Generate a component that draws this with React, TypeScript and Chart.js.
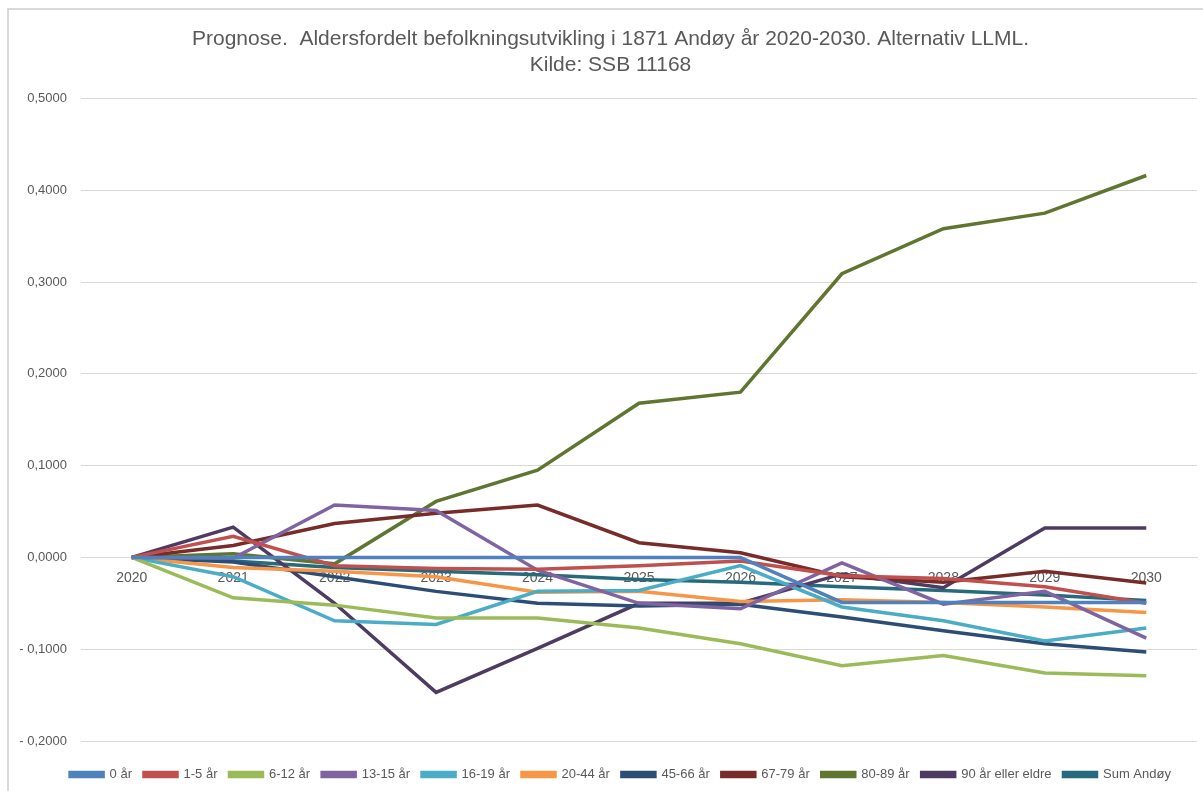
import React, { useEffect, useRef } from "react";
import { Chart, registerables } from "chart.js";

Chart.register(...registerables);

const years = ["2020", "2021", "2022", "2023", "2024", "2025", "2026", "2027", "2028", "2029", "2030"];

const s0 = [0, 0, 0, 0, 0, 0, 0, -0.049, -0.049, -0.049, -0.049];
const s1_5 = [0, 0.023, -0.009, -0.012, -0.013, -0.009, -0.004, -0.02, -0.023, -0.032, -0.05];
const s6_12 = [0, -0.044, -0.052, -0.066, -0.066, -0.077, -0.094, -0.118, -0.107, -0.126, -0.129];
const s13_15 = [0, -0.001, 0.057, 0.051, -0.014, -0.05, -0.056, -0.006, -0.051, -0.037, -0.088];
const s16_19 = [0, -0.021, -0.069, -0.073, -0.037, -0.036, -0.009, -0.054, -0.069, -0.091, -0.077];
const s20_44 = [0, -0.011, -0.015, -0.021, -0.038, -0.037, -0.048, -0.046, -0.049, -0.054, -0.06];
const s45_66 = [0, -0.005, -0.021, -0.037, -0.05, -0.053, -0.051, -0.065, -0.08, -0.094, -0.103];
const s67_79 = [0, 0.013, 0.037, 0.048, 0.057, 0.016, 0.005, -0.021, -0.027, -0.015, -0.028];
const s80_89 = [0, 0.004, -0.007, 0.061, 0.095, 0.168, 0.18, 0.309, 0.358, 0.375, 0.416];
const s90 = [0, 0.033, -0.05, -0.147, -0.099, -0.05, -0.05, -0.018, -0.033, 0.032, 0.032];
const sSum = [0, -0.004, -0.011, -0.015, -0.019, -0.024, -0.027, -0.032, -0.036, -0.041, -0.047];

const seriesLabels = ["0 år", "1-5 år", "6-12 år", "13-15 år", "16-19 år", "20-44 år", "45-66 år", "67-79 år", "80-89 år", "90 år eller eldre", "Sum Andøy"];
const seriesData = [s0, s1_5, s6_12, s13_15, s16_19, s20_44, s45_66, s67_79, s80_89, s90, sSum];
const seriesColors = ["#4F81BD", "#C0504D", "#9BBB59", "#8064A2", "#4BACC6", "#F79646", "#2C4D75", "#772C2A", "#5F7530", "#4D3B62", "#276A7C"];

const titleLines = ["Prognose.  Aldersfordelt befolkningsutvikling i 1871 Andøy år 2020-2030. Alternativ LLML.", "Kilde: SSB 11168"];

const FONT = "'Liberation Sans', Arial, sans-serif";
const TEXT = "#595959";
const GRID = "#D9D9D9";

function fmt(v: number): string {
  const s = Math.abs(v).toFixed(4).replace(".", ",");
  return v < -1e-9 ? "- " + s : s;
}

const shiftBoxes = {
  id: "shiftBoxes",
  afterLayout(chart: any) {
    if (chart.legend) {
      chart.legend.left += 22;
      chart.legend.right += 22;
    }
    if (chart.titleBlock) {
      chart.titleBlock.left += 12;
      chart.titleBlock.right += 12;
    }
  },
};

export default function App() {
  const ref = useRef<HTMLCanvasElement | null>(null);
  useEffect(() => {
    if (!ref.current) return;
    const chart = new Chart(ref.current, {
      type: "line",
      data: {
        labels: years,
        datasets: seriesLabels.map((l, i) => ({
          label: l,
          data: seriesData[i],
          borderColor: seriesColors[i],
          backgroundColor: seriesColors[i],
          borderWidth: 3.5,
          pointRadius: 0,
          tension: 0,
        })),
      },
      options: {
        responsive: false,
        animation: false,
        layout: { padding: { left: 0, right: 6, top: 0, bottom: 0 } },
        plugins: {
          title: {
            display: true,
            text: titleLines,
            color: TEXT,
            font: { family: FONT, size: 21, weight: "normal" as any, lineHeight: 1.2 },
            padding: { top: 27, bottom: 21 },
          },
          legend: {
            position: "bottom",
            title: {
              display: true,
              text: " ",
              font: { family: FONT, size: 10, lineHeight: 1 },
              padding: { top: 0, bottom: 5 },
            },
            labels: {
              color: TEXT,
              font: { family: FONT, size: 13 },
              boxWidth: 33,
              boxHeight: 4,
              padding: 12,
            },
          },
          tooltip: { enabled: false },
        },
        scales: {
          x: {
            position: { y: 0 } as any,
            offset: true,
            grid: { display: false, drawTicks: false },
            border: { display: true, color: GRID, width: 1 },
            ticks: { color: TEXT, font: { family: FONT, size: 14 }, padding: 12, maxRotation: 0 },
          },
          y: {
            min: -0.2,
            max: 0.5,
            ticks: {
              stepSize: 0.1,
              color: TEXT,
              font: { family: FONT, size: 13 },
              padding: 14,
              callback: (v: any) => fmt(Number(v)),
            },
            grid: { color: GRID, drawTicks: false },
            border: { display: false },
            afterFit: (s: any) => { s.width = 81; },
          },
        },
      },
      plugins: [shiftBoxes],
    });
    return () => chart.destroy();
  }, []);
  return (
    <div style={{ position: "fixed", left: 0, top: 0, width: 1203, height: 791, overflow: "hidden", background: "#fff" }}>
      <div style={{ position: "absolute", left: 7, top: 8, width: 1300, height: 900, borderLeft: "2px solid #D9D9D9", borderTop: "2px solid #D9D9D9" }} />
      <canvas ref={ref} width={1203} height={791} style={{ position: "absolute", left: 0, top: 0 }} />
    </div>
  );
}
